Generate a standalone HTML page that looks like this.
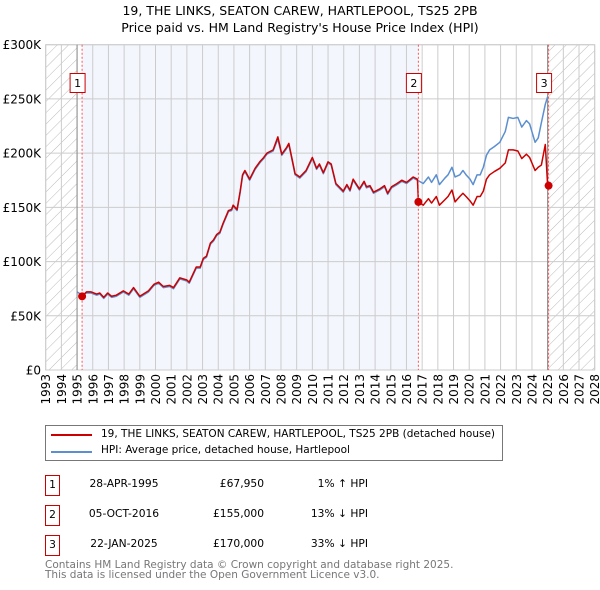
<!DOCTYPE html>
<html><head><meta charset="utf-8"><style>
body{margin:0;background:#fff;font-family:"DejaVu Sans","Liberation Sans",sans-serif;}
#wrap{position:relative;width:600px;height:590px;overflow:hidden;}
.t{position:absolute;white-space:nowrap;color:#000;}
</style></head><body>
<div id="wrap">
<div class="t" style="left:0;width:600px;text-align:center;top:2px;font-size:12.5px;line-height:17px;">19, THE LINKS, SEATON CAREW, HARTLEPOOL, TS25 2PB<br>Price paid vs. HM Land Registry's House Price Index (HPI)</div>
<svg id="chart" width="600" height="415" style="position:absolute;left:0;top:0;">
<defs><pattern id="hatch" patternUnits="userSpaceOnUse" width="8" height="8" patternTransform="rotate(45)"><line x1="0" y1="0" x2="0" y2="8" stroke="#bbb" stroke-width="1"/></pattern></defs>
<g id="bg"></g><g id="grid"></g><g id="lines"></g><g id="marks"></g><g id="axes"></g>
</svg>
<div style="position:absolute;left:45px;top:425px;width:458px;height:36px;border:1px solid #777;box-sizing:border-box;font-size:10.5px;">
<div style="position:absolute;left:5px;top:8px;width:41px;height:2px;background:#cc0000;"></div>
<div class="t" style="left:55px;top:2px;">19, THE LINKS, SEATON CAREW, HARTLEPOOL, TS25 2PB (detached house)</div>
<div style="position:absolute;left:5px;top:25px;width:41px;height:2px;background:#5b8fd0;"></div>
<div class="t" style="left:55px;top:18px;">HPI: Average price, detached house, Hartlepool</div>
</div>
<div id="table"></div>
<div class="t" style="left:45px;top:560px;font-size:10.5px;line-height:10px;color:#777;">Contains HM Land Registry data © Crown copyright and database right 2025.<br>This data is licensed under the Open Government Licence v3.0.</div>
</div>
<script>
const hpiYears=[1995.0,1995.32,1995.6,1995.9,1996.25,1996.45,1996.7,1996.95,1997.2,1997.5,1997.95,1998.3,1998.6,1999.0,1999.55,1999.9,2000.2,2000.5,2000.9,2001.15,2001.55,2002.0,2002.15,2002.6,2002.85,2003.05,2003.25,2003.5,2003.7,2003.9,2004.1,2004.3,2004.65,2004.85,2004.95,2005.2,2005.4,2005.55,2005.7,2006.0,2006.35,2006.65,2006.9,2007.1,2007.5,2007.8,2008.05,2008.35,2008.5,2008.7,2008.9,2009.2,2009.6,2010.0,2010.27,2010.45,2010.7,2011.0,2011.2,2011.5,2011.97,2012.2,2012.4,2012.6,2013.0,2013.3,2013.45,2013.67,2013.9,2014.3,2014.6,2014.8,2015.05,2015.4,2015.7,2016.0,2016.43,2016.7,2017.07,2017.4,2017.6,2017.9,2018.1,2018.45,2018.65,2018.9,2019.1,2019.4,2019.6,2019.8,2020.05,2020.25,2020.5,2020.7,2020.9,2021.1,2021.3,2021.6,2021.95,2022.3,2022.5,2022.8,2023.1,2023.35,2023.65,2023.85,2024.2,2024.4,2024.6,2024.85,2025.0];
const hpiValues=[72,69,71,71,69,70,66,70,67,68,72,69,75,67,72,78,80,76,77,75,84,82,80,94,94,102,104,116,119,124,126,134,146,147,151,147,164,179,183,175,185,191,195,199,202,213,198,204,208,194,180,177,183,195,185,189,181,191,189,171,164,170,165,175,166,173,168,169,163,166,169,162,168,171,174,172,177,175,172,178,173,180,171,177,180,187,178,180,184,180,176,171,180,180,187,198,203,206,210,220,233,232,233,224,230,227,210,214,228,245,252];
const priceYears=[1995.32,1995.6,1995.9,1996.25,1996.45,1996.7,1996.95,1997.2,1997.5,1997.95,1998.3,1998.6,1999.0,1999.55,1999.9,2000.2,2000.5,2000.9,2001.15,2001.55,2002.0,2002.15,2002.6,2002.85,2003.05,2003.25,2003.5,2003.7,2003.9,2004.1,2004.3,2004.65,2004.85,2004.95,2005.2,2005.4,2005.55,2005.7,2006.0,2006.35,2006.65,2006.9,2007.1,2007.5,2007.8,2008.05,2008.35,2008.5,2008.7,2008.9,2009.2,2009.6,2010.0,2010.27,2010.45,2010.7,2011.0,2011.2,2011.5,2011.97,2012.2,2012.4,2012.6,2013.0,2013.3,2013.45,2013.67,2013.9,2014.3,2014.6,2014.8,2015.05,2015.4,2015.7,2016.0,2016.43,2016.7,2016.76,2017.07,2017.4,2017.6,2017.9,2018.1,2018.45,2018.65,2018.9,2019.1,2019.4,2019.6,2019.8,2020.05,2020.25,2020.5,2020.7,2020.9,2021.1,2021.3,2021.6,2021.95,2022.3,2022.5,2022.8,2023.1,2023.35,2023.65,2023.85,2024.2,2024.4,2024.6,2024.85,2025.0,2025.06];
const priceValues=[68,72,72,70,71,67,71,68,69,73,70,76,68,73,79,81,77,78,76,85,83,81,95,95,103,105,117,120,125,127,135,147,148,152,148,165,180,184,176,186,192,196,200,203,215,199,205,209,195,181,178,184,196,186,190,182,192,190,172,165,171,166,176,167,174,169,170,164,167,170,163,169,172,175,173,178,176,155,152,158,154,160,152,157,160,166,155,160,163,160,156,152,160,160,165,176,180,183,186,191,203,203,202,195,199,196,184,187,189,208,170];
const saleYears=[1995.32,2016.76,2025.06];
const salePrices=[67.95,155,170];
const saleLabels=["1","2","3"];
const saleDates=["28-APR-1995","05-OCT-2016","22-JAN-2025"];
const salePriceText=["£67,950","£155,000","£170,000"];
const saleHpiText=["1% ↑ HPI","13% ↓ HPI","33% ↓ HPI"];
const yTicks=[0,50,100,150,200,250,300];
const yTickLabels=["£0","£50K","£100K","£150K","£200K","£250K","£300K"];

const L=45.7,R=594.7,T=44.7,B=370,X0=1993,X1=2028,YMAX=300;
const xs=y=>L+(y-X0)/(X1-X0)*(R-L);
const ys=v=>B-v/YMAX*(B-T);
const NS="http://www.w3.org/2000/svg";
function mk(parent,tag,attrs){const e=document.createElementNS(NS,tag);for(const k in attrs)e.setAttribute(k,attrs[k]);document.getElementById(parent).appendChild(e);return e;}

let e;
e=mk('bg','rect',{x:L,y:T,width:R-L,height:B-T,fill:'#fff'});


e=mk('bg','rect',{x:xs(saleYears[0]),y:T,width:xs(saleYears[1])-xs(saleYears[0]),height:B-T,fill:'#f3f6fd'});


e=mk('bg','rect',{x:L,y:T,width:xs(1995)-L,height:B-T,fill:'url(#hatch)'});


e=mk('bg','rect',{x:xs(2025.0),y:T,width:R-xs(2025.0),height:B-T,fill:'url(#hatch)'});



for(let yr=X0;yr<=X1;yr++){
 e=mk('grid','line',{x1:xs(yr),x2:xs(yr),y1:T,y2:B,stroke:'#ccc','stroke-width':1});
 
 
 e=mk('axes','text',{x:0,y:0,transform:`translate(${xs(yr)+4.5},374) rotate(-90)`,'text-anchor':'end','font-size':'12','font-family':'DejaVu Sans, Liberation Sans, sans-serif'});
 e.textContent=yr;
 
 
}
yTicks.forEach((v,i)=>{
 e=mk('grid','line',{x1:L,x2:R,y1:ys(v),y2:ys(v),stroke:'#ccc','stroke-width':1});
 
 
 e=mk('axes','text',{x:41,y:ys(v)+4.5,'text-anchor':'end','font-size':'12','font-family':'DejaVu Sans, Liberation Sans, sans-serif'});
 e.textContent=yTickLabels[i];
 
 
});
e=mk('grid','rect',{x:L,y:T,width:R-L,height:B-T,fill:'none',stroke:'#ccc'});


e=mk('grid','line',{x1:xs(1995),x2:xs(1995),y1:T,y2:B,stroke:'#888'});


e=mk('grid','line',{x1:xs(2025),x2:xs(2025),y1:T,y2:B,stroke:'#888'});



e=mk('lines','polyline',{points:hpiYears.map((y,i)=>xs(y)+','+ys(hpiValues[i])).join(' '),fill:'none',stroke:'#5b8fd0','stroke-width':1.5,'stroke-linejoin':'round'});


e=mk('lines','polyline',{points:priceYears.map((y,i)=>xs(y)+','+ys(priceValues[i])).join(' '),fill:'none',stroke:'#cc0000','stroke-width':1.5,'stroke-linejoin':'round'});



saleYears.forEach((y,i)=>{
 const x=xs(y);
 e=mk('marks','line',{x1:x,x2:x,y1:T,y2:B,stroke:'#f55','stroke-width':1,'stroke-dasharray':'2,2'});
 
 
 e=mk('marks','circle',{cx:x,cy:ys(salePrices[i]),r:4,fill:'#cc0000'});
 
 
 e=mk('marks','rect',{x:x-12,y:73.5,width:15,height:19,fill:'#fff',stroke:'#cc0000'});
 
 
 e=mk('marks','text',{x:x-4.5,y:87,'text-anchor':'middle','font-size':'11','font-family':'DejaVu Sans, sans-serif'});
 e.textContent=saleLabels[i];
 
 
});

const tbl=document.getElementById('table');
saleLabels.forEach((lab,i)=>{
 const top=475+i*30;
 const row=document.createElement('div');
 
 
 row.style.cssText=`position:absolute;left:0;top:${top}px;width:600px;height:20px;font-size:10.7px;`;
 row.innerHTML=`<div style="position:absolute;left:45px;top:0;width:15px;height:21px;border:1px solid #cc0000;box-sizing:border-box;text-align:center;line-height:18px;">${lab}</div>`+
 `<div class="t" style="left:88px;width:72px;text-align:center;top:2px;">${saleDates[i]}</div>`+
 `<div class="t" style="left:190px;width:74px;text-align:right;top:2px;">${salePriceText[i]}</div>`+
 `<div class="t" style="left:300px;width:68px;text-align:right;top:2px;">${saleHpiText[i]}</div>`;
 tbl.appendChild(row);
});
</script>
</body></html>
